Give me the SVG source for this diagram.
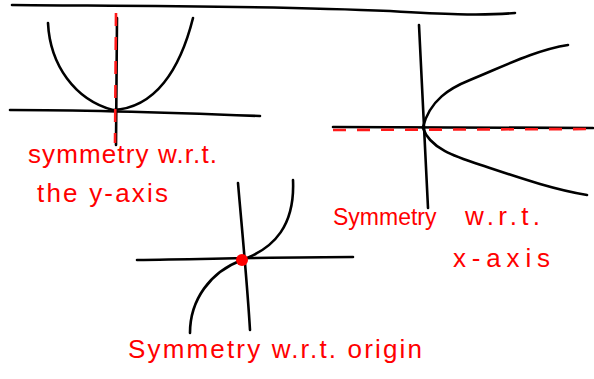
<svg xmlns="http://www.w3.org/2000/svg" width="594" height="379" viewBox="0 0 594 379">
<style>
.ink{fill:none;stroke:#000;stroke-width:2.6;stroke-linecap:round;stroke-linejoin:round}
.dash{fill:none;stroke:#ff1a1a;stroke-width:2.6;stroke-dasharray:13 11}
.lbl{font-family:"Liberation Sans","DejaVu Sans",sans-serif;font-size:26px;fill:#ff0000}
</style>
<rect width="594" height="379" fill="#fff"/>
<path class="ink" d="M12,5 C100,6 250,5 390,11 C440,14 480,16 515,13"/>
<g id="y-axis-symmetry">
<path class="ink" d="M10,110 C90,110 180,113 260,116"/>
<path class="ink" d="M117,18 L116,145"/>
<path class="ink" d="M48,23 C50,65 75,100 113,110 C155,108 180,70 193,18"/>
<path class="dash" d="M116,13 L115,143"/>
<text class="lbl" x="28" y="163" textLength="189" lengthAdjust="spacing">symmetry w.r.t.</text>
<text class="lbl" x="37" y="202" textLength="131" lengthAdjust="spacing">the y-axis</text>
</g>
<g id="x-axis-symmetry">
<path class="ink" d="M419,25 C422,90 425,150 428,208"/>
<path class="ink" d="M333,127 L593,128"/>
<path class="ink" d="M423,127 C430,100 450,88 470,80 C500,68 535,50 568,45"/>
<path class="ink" d="M423,128 C430,150 460,158 487,167 C520,178 555,190 587,195"/>
<path class="dash" d="M333,130 L594,129"/>
<text class="lbl" x="333" y="225" style="font-size:23px">Symmetry</text>
<text class="lbl" x="465" y="225" textLength="75" lengthAdjust="spacing">w.r.t.</text>
<text class="lbl" x="453" y="267" textLength="97" lengthAdjust="spacing">x-axis</text>
</g>
<g id="origin-symmetry">
<path class="ink" d="M137,260 C210,259 290,257 353,257"/>
<path class="ink" d="M238,183 C242,230 247,280 250,330"/>
<path class="ink" d="M190,333 C190,300 210,272 242,260 C275,248 295,225 293,180"/>
<circle cx="242" cy="260" r="6" fill="#ff0000"/>
<text class="lbl" x="128" y="358" textLength="294" lengthAdjust="spacing">Symmetry w.r.t. origin</text>
</g>
</svg>
